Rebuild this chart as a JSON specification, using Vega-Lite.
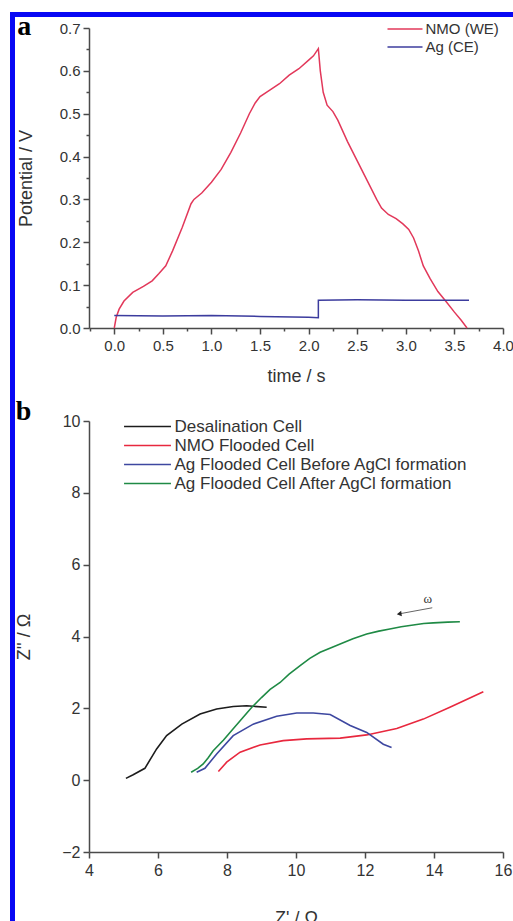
{
  "$schema": "https://vega.github.io/schema/vega-lite/v6.json",
  "padding": {"left": 10, "top": 12, "right": 0, "bottom": 0},
  "background": "white",
  "datasets": {
    "gcd": [
      {"series": "NMO (WE)", "i": 1, "t": 0.0, "V": 0.0},
      {"series": "NMO (WE)", "i": 2, "t": 0.02, "V": 0.025},
      {"series": "NMO (WE)", "i": 3, "t": 0.05, "V": 0.044},
      {"series": "NMO (WE)", "i": 4, "t": 0.1, "V": 0.063},
      {"series": "NMO (WE)", "i": 5, "t": 0.19, "V": 0.083},
      {"series": "NMO (WE)", "i": 6, "t": 0.3, "V": 0.097},
      {"series": "NMO (WE)", "i": 7, "t": 0.39, "V": 0.11},
      {"series": "NMO (WE)", "i": 8, "t": 0.46, "V": 0.127},
      {"series": "NMO (WE)", "i": 9, "t": 0.53, "V": 0.145},
      {"series": "NMO (WE)", "i": 10, "t": 0.6, "V": 0.18},
      {"series": "NMO (WE)", "i": 11, "t": 0.7, "V": 0.235},
      {"series": "NMO (WE)", "i": 12, "t": 0.79, "V": 0.29},
      {"series": "NMO (WE)", "i": 13, "t": 0.82, "V": 0.3},
      {"series": "NMO (WE)", "i": 14, "t": 0.9, "V": 0.315},
      {"series": "NMO (WE)", "i": 15, "t": 1.0, "V": 0.34},
      {"series": "NMO (WE)", "i": 16, "t": 1.1, "V": 0.37},
      {"series": "NMO (WE)", "i": 17, "t": 1.2, "V": 0.41},
      {"series": "NMO (WE)", "i": 18, "t": 1.3, "V": 0.455},
      {"series": "NMO (WE)", "i": 19, "t": 1.39, "V": 0.5},
      {"series": "NMO (WE)", "i": 20, "t": 1.45, "V": 0.525},
      {"series": "NMO (WE)", "i": 21, "t": 1.5, "V": 0.54},
      {"series": "NMO (WE)", "i": 22, "t": 1.6, "V": 0.555},
      {"series": "NMO (WE)", "i": 23, "t": 1.7, "V": 0.57},
      {"series": "NMO (WE)", "i": 24, "t": 1.8, "V": 0.59},
      {"series": "NMO (WE)", "i": 25, "t": 1.9, "V": 0.605},
      {"series": "NMO (WE)", "i": 26, "t": 2.0, "V": 0.625},
      {"series": "NMO (WE)", "i": 27, "t": 2.05, "V": 0.635},
      {"series": "NMO (WE)", "i": 28, "t": 2.1, "V": 0.652},
      {"series": "NMO (WE)", "i": 29, "t": 2.12, "V": 0.6},
      {"series": "NMO (WE)", "i": 30, "t": 2.15, "V": 0.55},
      {"series": "NMO (WE)", "i": 31, "t": 2.19, "V": 0.52},
      {"series": "NMO (WE)", "i": 32, "t": 2.25, "V": 0.505},
      {"series": "NMO (WE)", "i": 33, "t": 2.3, "V": 0.485},
      {"series": "NMO (WE)", "i": 34, "t": 2.4, "V": 0.435},
      {"series": "NMO (WE)", "i": 35, "t": 2.5, "V": 0.39},
      {"series": "NMO (WE)", "i": 36, "t": 2.6, "V": 0.345},
      {"series": "NMO (WE)", "i": 37, "t": 2.7, "V": 0.3},
      {"series": "NMO (WE)", "i": 38, "t": 2.75, "V": 0.28},
      {"series": "NMO (WE)", "i": 39, "t": 2.82, "V": 0.265},
      {"series": "NMO (WE)", "i": 40, "t": 2.9, "V": 0.255},
      {"series": "NMO (WE)", "i": 41, "t": 2.97, "V": 0.243},
      {"series": "NMO (WE)", "i": 42, "t": 3.03, "V": 0.23},
      {"series": "NMO (WE)", "i": 43, "t": 3.08, "V": 0.21},
      {"series": "NMO (WE)", "i": 44, "t": 3.13, "V": 0.18},
      {"series": "NMO (WE)", "i": 45, "t": 3.18, "V": 0.145},
      {"series": "NMO (WE)", "i": 46, "t": 3.25, "V": 0.115},
      {"series": "NMO (WE)", "i": 47, "t": 3.33, "V": 0.085},
      {"series": "NMO (WE)", "i": 48, "t": 3.42, "V": 0.06},
      {"series": "NMO (WE)", "i": 49, "t": 3.5, "V": 0.037},
      {"series": "NMO (WE)", "i": 50, "t": 3.57, "V": 0.018},
      {"series": "NMO (WE)", "i": 51, "t": 3.63, "V": 0.0},
      {"series": "Ag (CE)", "i": 101, "t": 0.0, "V": 0.029},
      {"series": "Ag (CE)", "i": 102, "t": 0.5, "V": 0.028},
      {"series": "Ag (CE)", "i": 103, "t": 1.0, "V": 0.029},
      {"series": "Ag (CE)", "i": 104, "t": 1.5, "V": 0.027},
      {"series": "Ag (CE)", "i": 105, "t": 2.0, "V": 0.025},
      {"series": "Ag (CE)", "i": 106, "t": 2.1, "V": 0.024},
      {"series": "Ag (CE)", "i": 107, "t": 2.1, "V": 0.065},
      {"series": "Ag (CE)", "i": 108, "t": 2.5, "V": 0.066},
      {"series": "Ag (CE)", "i": 109, "t": 3.0, "V": 0.065},
      {"series": "Ag (CE)", "i": 110, "t": 3.5, "V": 0.065},
      {"series": "Ag (CE)", "i": 111, "t": 3.65, "V": 0.065}
    ],
    "eis": [
      {"series": "Desalination Cell", "i": 1, "zr": 5.07, "zi": 0.05},
      {"series": "Desalination Cell", "i": 2, "zr": 5.28, "zi": 0.15},
      {"series": "Desalination Cell", "i": 3, "zr": 5.62, "zi": 0.33},
      {"series": "Desalination Cell", "i": 4, "zr": 5.96, "zi": 0.87},
      {"series": "Desalination Cell", "i": 5, "zr": 6.25, "zi": 1.24},
      {"series": "Desalination Cell", "i": 6, "zr": 6.69, "zi": 1.56},
      {"series": "Desalination Cell", "i": 7, "zr": 7.22, "zi": 1.84},
      {"series": "Desalination Cell", "i": 8, "zr": 7.7, "zi": 1.98},
      {"series": "Desalination Cell", "i": 9, "zr": 8.18, "zi": 2.05},
      {"series": "Desalination Cell", "i": 10, "zr": 8.57, "zi": 2.07},
      {"series": "Desalination Cell", "i": 11, "zr": 9.15, "zi": 2.03},
      {"series": "NMO Flooded Cell", "i": 21, "zr": 7.75, "zi": 0.24},
      {"series": "NMO Flooded Cell", "i": 22, "zr": 7.99, "zi": 0.5},
      {"series": "NMO Flooded Cell", "i": 23, "zr": 8.38, "zi": 0.78},
      {"series": "NMO Flooded Cell", "i": 24, "zr": 8.96, "zi": 0.98},
      {"series": "NMO Flooded Cell", "i": 25, "zr": 9.63, "zi": 1.1},
      {"series": "NMO Flooded Cell", "i": 26, "zr": 10.31, "zi": 1.15},
      {"series": "NMO Flooded Cell", "i": 27, "zr": 11.28, "zi": 1.17},
      {"series": "NMO Flooded Cell", "i": 28, "zr": 12.05, "zi": 1.26},
      {"series": "NMO Flooded Cell", "i": 29, "zr": 12.92, "zi": 1.44},
      {"series": "NMO Flooded Cell", "i": 30, "zr": 13.69, "zi": 1.7},
      {"series": "NMO Flooded Cell", "i": 31, "zr": 14.46, "zi": 2.03},
      {"series": "NMO Flooded Cell", "i": 32, "zr": 15.43, "zi": 2.46},
      {"series": "Ag Flooded Cell Before AgCl formation", "i": 41, "zr": 7.12, "zi": 0.22},
      {"series": "Ag Flooded Cell Before AgCl formation", "i": 42, "zr": 7.36, "zi": 0.33},
      {"series": "Ag Flooded Cell Before AgCl formation", "i": 43, "zr": 7.7, "zi": 0.73},
      {"series": "Ag Flooded Cell Before AgCl formation", "i": 44, "zr": 8.18, "zi": 1.24},
      {"series": "Ag Flooded Cell Before AgCl formation", "i": 45, "zr": 8.76, "zi": 1.56},
      {"series": "Ag Flooded Cell Before AgCl formation", "i": 46, "zr": 9.44, "zi": 1.78},
      {"series": "Ag Flooded Cell Before AgCl formation", "i": 47, "zr": 10.02, "zi": 1.87},
      {"series": "Ag Flooded Cell Before AgCl formation", "i": 48, "zr": 10.5, "zi": 1.87},
      {"series": "Ag Flooded Cell Before AgCl formation", "i": 49, "zr": 10.99, "zi": 1.83},
      {"series": "Ag Flooded Cell Before AgCl formation", "i": 50, "zr": 11.57, "zi": 1.52},
      {"series": "Ag Flooded Cell Before AgCl formation", "i": 51, "zr": 12.05, "zi": 1.33},
      {"series": "Ag Flooded Cell Before AgCl formation", "i": 52, "zr": 12.53, "zi": 1.0},
      {"series": "Ag Flooded Cell Before AgCl formation", "i": 53, "zr": 12.77, "zi": 0.91},
      {"series": "Ag Flooded Cell After AgCl formation", "i": 61, "zr": 6.96, "zi": 0.22},
      {"series": "Ag Flooded Cell After AgCl formation", "i": 62, "zr": 7.15, "zi": 0.33},
      {"series": "Ag Flooded Cell After AgCl formation", "i": 63, "zr": 7.31, "zi": 0.45},
      {"series": "Ag Flooded Cell After AgCl formation", "i": 64, "zr": 7.45, "zi": 0.62},
      {"series": "Ag Flooded Cell After AgCl formation", "i": 65, "zr": 7.6, "zi": 0.82},
      {"series": "Ag Flooded Cell After AgCl formation", "i": 66, "zr": 7.9, "zi": 1.12},
      {"series": "Ag Flooded Cell After AgCl formation", "i": 67, "zr": 8.18, "zi": 1.43},
      {"series": "Ag Flooded Cell After AgCl formation", "i": 68, "zr": 8.45, "zi": 1.73},
      {"series": "Ag Flooded Cell After AgCl formation", "i": 69, "zr": 8.72, "zi": 2.03},
      {"series": "Ag Flooded Cell After AgCl formation", "i": 70, "zr": 9.0, "zi": 2.3},
      {"series": "Ag Flooded Cell After AgCl formation", "i": 71, "zr": 9.25, "zi": 2.53},
      {"series": "Ag Flooded Cell After AgCl formation", "i": 72, "zr": 9.54, "zi": 2.72},
      {"series": "Ag Flooded Cell After AgCl formation", "i": 73, "zr": 9.8, "zi": 2.95},
      {"series": "Ag Flooded Cell After AgCl formation", "i": 74, "zr": 10.12, "zi": 3.19},
      {"series": "Ag Flooded Cell After AgCl formation", "i": 75, "zr": 10.4, "zi": 3.39},
      {"series": "Ag Flooded Cell After AgCl formation", "i": 76, "zr": 10.7, "zi": 3.56},
      {"series": "Ag Flooded Cell After AgCl formation", "i": 77, "zr": 11.0, "zi": 3.68},
      {"series": "Ag Flooded Cell After AgCl formation", "i": 78, "zr": 11.28, "zi": 3.79},
      {"series": "Ag Flooded Cell After AgCl formation", "i": 79, "zr": 11.65, "zi": 3.94},
      {"series": "Ag Flooded Cell After AgCl formation", "i": 80, "zr": 12.05, "zi": 4.07},
      {"series": "Ag Flooded Cell After AgCl formation", "i": 81, "zr": 12.4, "zi": 4.15},
      {"series": "Ag Flooded Cell After AgCl formation", "i": 82, "zr": 12.72, "zi": 4.21},
      {"series": "Ag Flooded Cell After AgCl formation", "i": 83, "zr": 13.05, "zi": 4.27},
      {"series": "Ag Flooded Cell After AgCl formation", "i": 84, "zr": 13.4, "zi": 4.32},
      {"series": "Ag Flooded Cell After AgCl formation", "i": 85, "zr": 13.7, "zi": 4.36},
      {"series": "Ag Flooded Cell After AgCl formation", "i": 86, "zr": 13.98, "zi": 4.38},
      {"series": "Ag Flooded Cell After AgCl formation", "i": 87, "zr": 14.4, "zi": 4.4},
      {"series": "Ag Flooded Cell After AgCl formation", "i": 88, "zr": 14.75, "zi": 4.41}
    ],
    "arrow": [
      {"x": 13.95, "y": 4.8, "x2": 12.99, "y2": 4.63, "label": "ω", "lx": 13.82, "ly": 5.05}
    ]
  },
  "columns": 2,
  "align": "none",
  "spacing": {"row": -4, "column": 0},
  "concat": [
    {
      "data": {"values": []},
      "mark": "point",
      "width": 5,
      "height": 5,
      "view": {"fill": "#0808f4", "stroke": null}
    },
    {
      "data": {"values": []},
      "mark": "point",
      "width": 505,
      "height": 5,
      "view": {"fill": "#0808f4", "stroke": null}
    },
    {
      "data": {"values": []},
      "mark": "point",
      "width": 5,
      "height": 1000,
      "view": {"fill": "#0808f4", "stroke": null}
    },
    {
      "spacing": 13,
      "resolve": {"scale": {"color": "independent"}, "legend": {"color": "independent"}},
      "vconcat": [
        {
          "width": 414,
          "height": 300,
          "title": {"text": "a", "anchor": "start", "frame": "bounds", "font": "Liberation Serif", "fontSize": 28, "fontWeight": "bold", "color": "#000", "offset": -42, "baseline": "alphabetic"},
          "data": {"name": "gcd"},
          "mark": {"type": "line", "strokeWidth": 1.5},
          "encoding": {
            "x": {
              "field": "t", "type": "quantitative",
              "scale": {"domain": [-0.26, 4.0], "nice": false, "zero": false},
              "axis": {
                "title": "time / s",
                "values": [-0.25, 0, 0.25, 0.5, 0.75, 1, 1.25, 1.5, 1.75, 2, 2.25, 2.5, 2.75, 3, 3.25, 3.5, 3.75, 4],
                "labelExpr": "datum.value >= 0 && abs(datum.value*2 - round(datum.value*2)) < 0.001 ? format(datum.value, '.1f') : ''",
                "tickSize": {"condition": {"test": "abs(datum.value*2 - round(datum.value*2)) < 0.001", "value": 6}, "value": 3},
                "labelFontSize": 15, "titleFontSize": 18, "labelPadding": 4, "titlePadding": 14
              }
            },
            "y": {
              "field": "V", "type": "quantitative",
              "scale": {"domain": [0, 0.7], "nice": false},
              "axis": {
                "title": "Potential / V",
                "values": [0, 0.05, 0.1, 0.15, 0.2, 0.25, 0.3, 0.35, 0.4, 0.45, 0.5, 0.55, 0.6, 0.65, 0.7],
                "labelExpr": "abs(datum.value*10 - round(datum.value*10)) < 0.001 ? format(datum.value, '.1f') : ''",
                "tickSize": {"condition": {"test": "abs(datum.value*10 - round(datum.value*10)) < 0.001", "value": 6}, "value": 3},
                "labelFontSize": 15, "titleFontSize": 18, "labelPadding": 3, "titlePadding": 24
              }
            },
            "color": {
              "field": "series", "type": "nominal",
              "scale": {"domain": ["NMO (WE)", "Ag (CE)"], "range": ["#e2385a", "#3c3c9e"]},
              "legend": {
                "orient": "none", "legendX": 308, "legendY": -7, "title": null,
                "symbolType": "M-2.5,0H2.5", "symbolSize": 196, "symbolStrokeWidth": 1.5,
                "labelFontSize": 15, "labelOffset": 12.5, "rowPadding": 2, "padding": 0
              }
            },
            "order": {"field": "i", "type": "quantitative"}
          }
        },
        {
          "width": 414,
          "height": 431,
          "title": {"text": "b", "anchor": "start", "frame": "bounds", "font": "Liberation Serif", "fontSize": 28, "fontWeight": "bold", "color": "#000", "offset": -35, "baseline": "alphabetic"},
          "layer": [
            {
              "data": {"name": "eis"},
              "mark": {"type": "line", "strokeWidth": 1.6},
              "encoding": {
                "x": {
                  "field": "zr", "type": "quantitative",
                  "scale": {"domain": [4, 16], "nice": false, "zero": false},
                  "axis": {
                    "title": "Z' / Ω",
                    "values": [4, 5, 6, 7, 8, 9, 10, 11, 12, 13, 14, 15, 16],
                    "labelExpr": "datum.value % 2 == 0 ? format(datum.value, 'd') : ''",
                    "tickSize": {"condition": {"test": "datum.value % 2 == 0", "value": 6}, "value": 3},
                    "labelFontSize": 16, "titleFontSize": 18, "labelPadding": 4, "titlePadding": 31
                  }
                },
                "y": {
                  "field": "zi", "type": "quantitative",
                  "scale": {"domain": [-2, 10], "nice": false, "zero": false},
                  "axis": {
                    "title": "Z'' / Ω",
                    "values": [-2, -1, 0, 1, 2, 3, 4, 5, 6, 7, 8, 9, 10],
                    "labelExpr": "datum.value % 2 == 0 ? format(datum.value, 'd') : ''",
                    "tickSize": {"condition": {"test": "datum.value % 2 == 0", "value": 6}, "value": 3},
                    "labelFontSize": 16, "titleFontSize": 18, "labelPadding": 3, "titlePadding": 28
                  }
                },
                "color": {
                  "field": "series", "type": "nominal",
                  "scale": {
                    "domain": ["Desalination Cell", "NMO Flooded Cell", "Ag Flooded Cell Before AgCl formation", "Ag Flooded Cell After AgCl formation"],
                    "range": ["#1c1c1c", "#e8283e", "#3d47a0", "#1f8a45"]
                  },
                  "legend": {
                    "orient": "none", "legendX": 50, "legendY": -3, "title": null,
                    "symbolType": "M-3.35,0H3.35", "symbolSize": 196, "symbolStrokeWidth": 1.5,
                    "labelFontSize": 17, "labelOffset": 18.5, "rowPadding": 1, "padding": 0, "labelLimit": 400
                  }
                },
                "order": {"field": "i", "type": "quantitative"}
              }
            },
            {
              "data": {"name": "arrow"},
              "mark": {"type": "rule", "color": "#666", "strokeWidth": 1},
              "encoding": {
                "x": {"field": "x", "type": "quantitative"},
                "y": {"field": "y", "type": "quantitative"},
                "x2": {"field": "x2"},
                "y2": {"field": "y2"}
              }
            },
            {
              "data": {"name": "arrow"},
              "mark": {"type": "point", "shape": "triangle-left", "filled": true, "color": "#222", "size": 30, "angle": 353, "opacity": 1},
              "encoding": {
                "x": {"field": "x2", "type": "quantitative"},
                "y": {"field": "y2", "type": "quantitative"}
              }
            },
            {
              "data": {"name": "arrow"},
              "mark": {"type": "text", "font": "Liberation Serif", "fontSize": 13, "color": "#333"},
              "encoding": {
                "x": {"field": "lx", "type": "quantitative"},
                "y": {"field": "ly", "type": "quantitative"},
                "text": {"field": "label"}
              }
            }
          ]
        }
      ]
    }
  ],
  "config": {
    "view": {"stroke": null},
    "axis": {
      "domainColor": "#4a4a4a", "domainWidth": 1.5,
      "tickColor": "#4a4a4a", "tickWidth": 1.5,
      "labelFont": "Liberation Sans", "labelColor": "#333",
      "titleFont": "Liberation Sans", "titleColor": "#333", "titleFontWeight": "normal",
      "grid": false, "labelFlush": false, "labelOverlap": false
    },
    "legend": {"labelFont": "Liberation Sans", "labelColor": "#333"}
  }
}
